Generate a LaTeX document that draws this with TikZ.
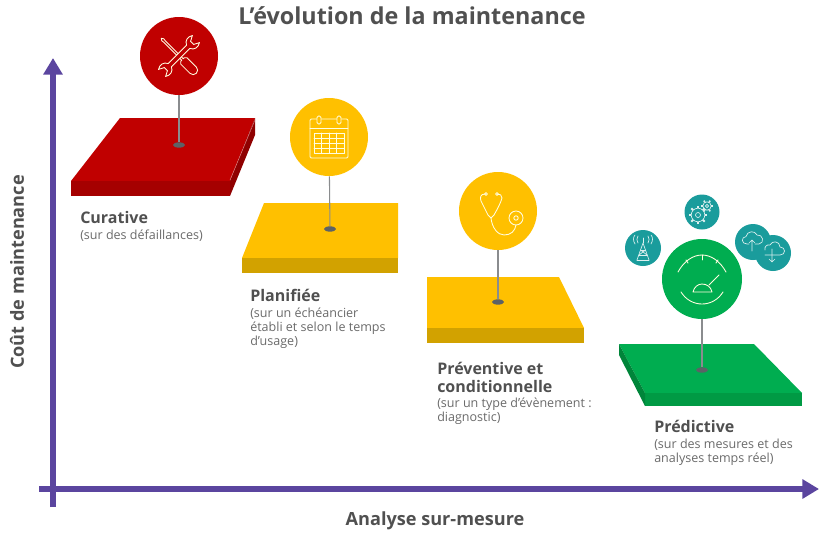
\documentclass[tikz,border=0pt]{standalone}
\usepackage{fontspec}
\setmainfont{Open Sans}
\usetikzlibrary{arrows.meta,shapes.geometric}
\definecolor{axiscol}{HTML}{5B459F}
\definecolor{redtop}{HTML}{C00000}
\definecolor{redfront}{HTML}{A50000}
\definecolor{redside}{HTML}{8F0000}
\definecolor{yeltop}{HTML}{FFC000}
\definecolor{yelfront}{HTML}{D2A200}
\definecolor{grntop}{HTML}{00AD50}
\definecolor{grnfront}{HTML}{009A44}
\definecolor{grnside}{HTML}{00853A}
\definecolor{tealc}{HTML}{1A9C9C}
\definecolor{pincol}{HTML}{8A8C8E}
\definecolor{dotcol}{HTML}{5C6266}
\definecolor{titlecol}{HTML}{505050}
\definecolor{subcol}{HTML}{6A6A6A}
\tikzset{
  bubble/.style={circle,inner sep=0pt,minimum size=78pt*0.75},
  smallbubble/.style={circle,inner sep=0pt,minimum size=36pt*0.75,fill=tealc},
  pinline/.style={draw=pincol,line width=0.8pt},
  pindot/.style={ellipse,fill=dotcol,inner sep=0pt,minimum width=9pt,minimum height=4pt},
  icon/.style={draw=white!88!yellow,line width=0.65pt,line cap=round,line join=round},
  ticon/.style={draw=white!85!tealc,line width=0.5pt,line cap=round,line join=round},
  axisline/.style={draw=axiscol,line width=4.2pt,-{Triangle[length=12.5pt,width=14pt]}},
  head/.style={anchor=north west,inner sep=0pt,align=left,text=titlecol,font=\bfseries\fontsize{12}{13.5}\selectfont},
  sub/.style={anchor=north west,inner sep=0pt,align=left,text=subcol,font=\fontsize{9.4}{10.5}\selectfont},
  axislabel/.style={text=titlecol,inner sep=0pt,font=\bfseries\fontsize{13.6}{15}\selectfont}
}
\begin{document}
\begin{tikzpicture}[x=0.75pt,y=-0.75pt]
\useasboundingbox (0,0) rectangle (825,540);
% axes
\coordinate (ybot) at (53,507);
\coordinate (ytop) at (53,58);
\coordinate (xleft) at (39,489);
\coordinate (xright) at (819,489);
\draw[axisline] (ybot) -- (ytop);
\draw[axisline] (xleft) -- (xright);
% title
\node[text=titlecol,inner sep=0pt,font=\bfseries\fontsize{17.5}{20}\selectfont] (title) at (412,16) {L’évolution de la maintenance};
\node[axislabel,rotate=90] (ylab) at (17,272) {Coût de maintenance};
\node[axislabel] (xlab) at (435,521) {Analyse sur-mesure};
% red plate
\fill[redtop] (120,118) -- (255,118) -- (230,181) -- (71,181) -- cycle;
\fill[redfront] (71,181) -- (230,181) -- (230,196) -- (71,196) -- cycle;
\fill[redside] (255,118) -- (255,135) -- (230,196) -- (230,181) -- cycle;
\draw[white!55!redtop,line width=0.3pt] (255,120) -- (230,180);
\node[bubble,fill=redtop] (c1) at (179,56) {};
\node[pindot] (d1) at (179,145) {};
\draw[pinline] (c1) -- (d1);
% tools icon
\begin{scope}[shift={(179,56)},rotate=-45]
  \draw[icon,fill=redtop] (-25,0) -- (-23,-1.4) -- (-20,-1) -- (5,-1) -- (5,-2.5) -- (7,-4.5) -- (20,-4.5) arc (-90:90:4.5) -- (7,4.5) -- (5,2.5) -- (5,1) -- (-20,1) -- (-23,1.4) -- cycle;
\end{scope}
\begin{scope}[shift={(179,56)},rotate=45]
  \draw[icon,fill=redtop] (-13,2.3) -- (13,2.3) .. controls (15,7) and (20,7.5) .. (24,5) -- (18.5,2.2) -- (18.5,-2.2) -- (24,-5) .. controls (20,-7.5) and (15,-7) .. (13,-2.3) -- (-13,-2.3) .. controls (-15,-7) and (-20,-7.5) .. (-24,-5) -- (-18.5,-2.2) -- (-18.5,2.2) -- (-24,5) .. controls (-20,7.5) and (-15,7) .. (-13,2.3) -- cycle;
\end{scope}
% yellow plate 1
\fill[yeltop] (264,203) -- (398,203) -- (398,258) -- (242,258) -- cycle;
\fill[yelfront] (242,258) -- (398,258) -- (398,273) -- (242,273) -- cycle;
\node[bubble,fill=yeltop] (c2) at (329,137) {};
\node[pindot] (d2) at (330,229) {};
\draw[pinline] (c2) -- (d2);
% calendar icon
\draw[icon,rounded corners=1pt] (310,119) rectangle (348,158);
\draw[icon] (310,128) -- (348,128);
\draw[icon] (314,133) rectangle (344,153);
\foreach \gx in {321.5,329,336.5} \draw[icon,line width=0.5pt] (\gx,133) -- (\gx,153);
\foreach \gy in {138,143,148} \draw[icon,line width=0.5pt] (314,\gy) -- (344,\gy);
\foreach \rx in {319,339} \draw[icon,fill=yeltop,rounded corners=1.2pt] (\rx-2,116) rectangle (\rx+2,124);
% yellow plate 2
\fill[yeltop] (427,277) -- (559,277) -- (584,328) -- (427,328) -- cycle;
\fill[yelfront] (427,328) -- (584,328) -- (584,343) -- (427,343) -- cycle;
\node[bubble,fill=yeltop] (c3) at (498,211) {};
\node[pindot] (d3) at (498,302) {};
\draw[pinline] (c3) -- (d3);
% stethoscope icon
\draw[icon] (486,194) -- (485,194) .. controls (480,194) and (480,198) .. (481,201) -- (488,215) -- (491,218) -- (494,215) .. controls (498,208) and (501,202) .. (502,198) .. controls (502,195) and (500,194) .. (497,194);
\draw[icon] (491,218) .. controls (492,228) and (498,235) .. (504,235) .. controls (511,235) and (515,231) .. (516,225);
\draw[icon] (516,218) circle (7);
\draw[icon] (516,218) circle (2.2);
\draw[icon] (486,194) circle (1.4);
\draw[icon] (497,194) circle (1.4);
% green plate
\fill[grntop] (619,344) -- (754,344) -- (802,393) -- (645,393) -- cycle;
\fill[grnfront] (645,393) -- (802,393) -- (802,406) -- (645,406) -- cycle;
\fill[grnside] (619,344) -- (645,393) -- (645,406) -- (619,355) -- cycle;
\node[bubble,fill=grntop,minimum size=60pt] (c4) at (702,279) {};
\node[pindot] (d4) at (702,370) {};
\draw[pinline] (c4) -- (d4);
% gauge icon
\draw[icon] (678,272) .. controls (684,261) and (693,255) .. (702,255) .. controls (711,255) and (720,261) .. (726,272);
\draw[icon] (702,255) -- (702,260);
\draw[icon] (686,260) -- (688,263);
\draw[icon] (718,260) -- (716,263);
\draw[icon] (693,292) .. controls (694,287) and (698,284) .. (702,284) .. controls (707,284) and (711,287) .. (712,292) -- cycle;
\draw[icon] (709,285) -- (719,275);
\draw[icon] (681,292) .. controls (686,300) and (694,304) .. (702,304) .. controls (710,304) and (718,300) .. (723,292);
% small bubbles
\node[smallbubble] (s1) at (643,248) {};
\node[smallbubble,minimum size=35pt*0.75] (s2) at (702,212) {};
\node[smallbubble] (s3) at (753,242) {};
\node[smallbubble] (s4) at (773,253) {};
% tower
\draw[ticon] (643,243) -- (637,260) (643,243) -- (649,260);
\draw[ticon] (640.5,250) -- (645.5,250) (639,255) -- (647,255) (637,260) -- (649,260);
\draw[ticon] (640.5,250) -- (647,255) (645.5,250) -- (639,255);
\draw[ticon] (638,243) .. controls (636.5,241) and (636.5,238) .. (638,236);
\draw[ticon] (635,244) .. controls (633,241) and (633,237) .. (635,235);
\draw[ticon] (648,243) .. controls (649.5,241) and (649.5,238) .. (648,236);
\draw[ticon] (651,244) .. controls (653,241) and (653,237) .. (651,235);
\draw[ticon] (643,243) -- (643,238);
% gears
\foreach \a in {0,45,...,315} \draw[ticon,line width=1.4pt,line cap=butt] (698,215) ++(\a:6.8) -- ++(\a:2.6);
\draw[ticon] (698,215) circle (6.8);
\draw[ticon] (698,215) circle (2.5);
\foreach \a in {0,60,...,300} \draw[ticon,line width=1.2pt,line cap=butt] (707,206) ++(\a:4.2) -- ++(\a:2);
\draw[ticon] (707,206) circle (4.2);
\draw[ticon] (707,206) circle (1.6);
% clouds
\draw[ticon] (749,244) -- (747,244) .. controls (741,244) and (741,237) .. (746,236.5) .. controls (747,231) and (755,230) .. (757,235) .. controls (763,234) and (765,243) .. (759,244) -- (755,244);
\draw[ticon] (752,251) -- (752,240) (749,243) -- (752,240) -- (755,243);
\draw[ticon] (765,255) -- (767,255) -- (780,255) .. controls (786,255) and (786,247) .. (780,247) .. controls (780,241) and (772,240) .. (770,245) .. controls (767,244) and (764,247) .. (765,250);
\draw[ticon] (772,249) -- (772,262) (769,259) -- (772,262) -- (775,259);
% labels
\node[head] (h1) at (80,211) {Curative};
\node[sub] (t1) at (80,230) {(sur des défaillances)};
\node[head] (h2) at (250,289) {Planifiée};
\node[sub] (t2) at (250,308) {(sur un échéancier\\établi et selon le temps\\d’usage)};
\node[head] (h3) at (437,362) {Préventive et\\conditionnelle};
\node[sub] (t3) at (437,398) {(sur un type d’évènement :\\diagnostic)};
\node[head] (h4) at (654,420) {Prédictive};
\node[sub] (t4) at (654,439) {(sur des mesures et des\\analyses temps réel)};
\end{tikzpicture}
\end{document}
